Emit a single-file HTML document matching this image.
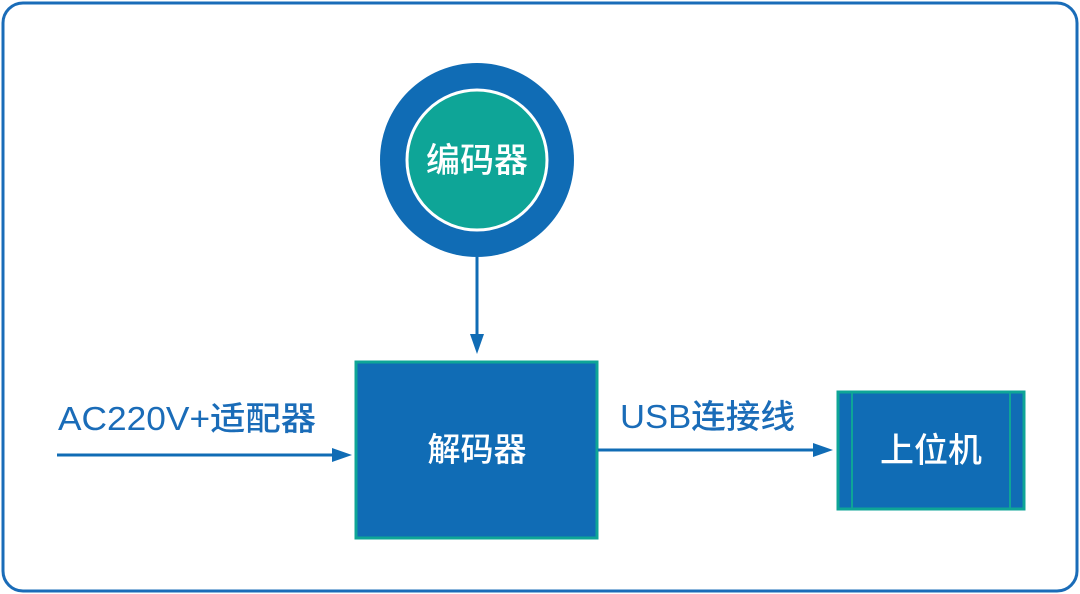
<!DOCTYPE html>
<html><head><meta charset="utf-8"><style>
html,body{margin:0;padding:0;background:#fff;}
svg{display:block;}
text{font-family:"Liberation Sans","Noto Sans CJK SC",sans-serif;font-weight:500;}
</style></head><body>
<svg width="1080" height="594" viewBox="0 0 1080 594" xmlns="http://www.w3.org/2000/svg">
<rect x="3" y="3" width="1074" height="588" rx="20" ry="20" fill="#fff" stroke="#1a6cb8" stroke-width="3"/>
<circle cx="477" cy="160" r="97" fill="#106cb5"/>
<circle cx="477" cy="160" r="70" fill="#0ea597" stroke="#fff" stroke-width="3"/>
<text x="477" y="172" font-size="34" fill="#fff" text-anchor="middle">编码器</text>
<line x1="477" y1="257" x2="477" y2="338" stroke="#106cb5" stroke-width="3"/>
<path d="M470,334 L484,334 L477,354 Z" fill="#106cb5"/>
<rect x="356" y="362" width="241" height="176" fill="#106cb5" stroke="#0ea597" stroke-width="3"/>
<text x="477" y="461" font-size="33" fill="#fff" text-anchor="middle">解码器</text>
<line x1="57" y1="455" x2="334" y2="455" stroke="#106cb5" stroke-width="3"/>
<path d="M332,448 L352,455 L332,462 Z" fill="#106cb5"/>
<text x="58" y="430" font-size="33" fill="#1a6cb8" textLength="258" lengthAdjust="spacingAndGlyphs">AC220V+适配器</text>
<line x1="598" y1="450" x2="815" y2="450" stroke="#106cb5" stroke-width="3"/>
<path d="M813,443 L833,450 L813,457 Z" fill="#106cb5"/>
<text x="620" y="428" font-size="33" fill="#1a6cb8" textLength="175" lengthAdjust="spacingAndGlyphs">USB连接线</text>
<rect x="838" y="392" width="186" height="117" fill="#106cb5" stroke="#0ea597" stroke-width="3"/>
<line x1="852" y1="392" x2="852" y2="509" stroke="#0ea597" stroke-width="2"/>
<line x1="1010" y1="392" x2="1010" y2="509" stroke="#0ea597" stroke-width="2"/>
<text x="931" y="462" font-size="34" fill="#fff" text-anchor="middle">上位机</text>
</svg>
</body></html>
